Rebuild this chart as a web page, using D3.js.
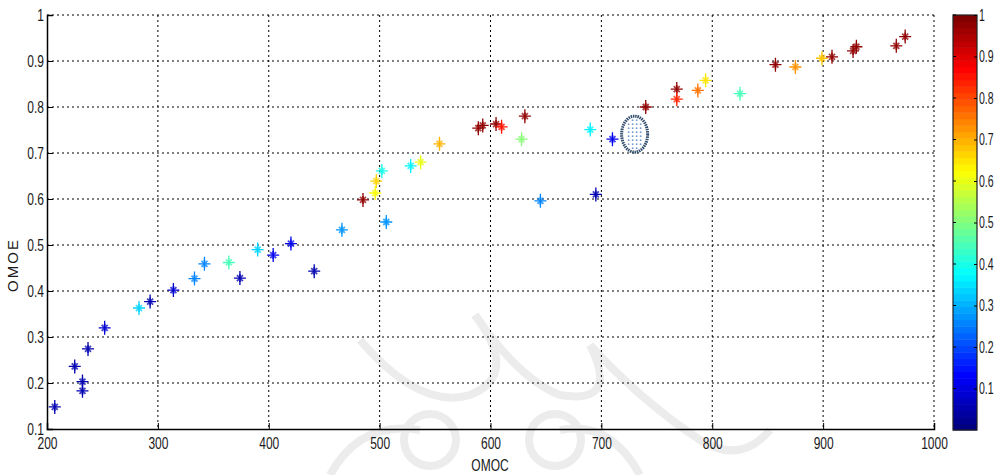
<!DOCTYPE html>
<html>
<head>
<meta charset="utf-8">
<script src="https://cdn.jsdelivr.net/npm/d3@7"></script>
<style>
  body { margin: 0; background: #fff; }
  text { font-family: "Liberation Sans Narrow", "Liberation Sans", Arial, sans-serif; }
</style>
</head>
<body>
<div id="chart"></div>
<script>
// data
const omoc = [207, 225, 232, 232, 237, 252, 283, 293, 314, 333, 342, 364, 374, 390, 404, 420, 441, 466,
  485, 496, 497, 502, 506, 528, 537, 554, 589, 593, 605, 610, 628, 631, 645, 690, 695, 710, 740,
  768, 768, 787, 794, 825, 857, 875, 899, 908, 927, 930, 966, 974];
const omoe = [0.148, 0.236, 0.203, 0.183, 0.274, 0.320, 0.363, 0.377, 0.402, 0.427, 0.459, 0.462, 0.428, 0.490, 0.478, 0.503, 0.443, 0.533,
  0.598, 0.613, 0.639, 0.661, 0.550, 0.672, 0.680, 0.720, 0.754, 0.760, 0.763, 0.757, 0.730, 0.780, 0.596, 0.751, 0.610, 0.730, 0.800,
  0.839, 0.817, 0.836, 0.858, 0.829, 0.892, 0.887, 0.906, 0.909, 0.922, 0.931, 0.933, 0.953];
const cval = [0.05, 0.05, 0.05, 0.05, 0.05, 0.08, 0.33, 0.05, 0.08, 0.25, 0.25, 0.45, 0.05, 0.33, 0.12, 0.12, 0.05, 0.27,
  0.97, 0.62, 0.67, 0.40, 0.27, 0.37, 0.60, 0.70, 0.97, 0.97, 0.97, 0.85, 0.50, 0.97, 0.25, 0.37, 0.05, 0.12, 0.97,
  0.97, 0.83, 0.75, 0.65, 0.45, 0.97, 0.72, 0.68, 0.97, 0.97, 0.97, 0.97, 0.97];
const xTicks = [200, 300, 400, 500, 600, 700, 800, 900, 1000];
const yTicks = [0.1, 0.2, 0.3, 0.4, 0.5, 0.6, 0.7, 0.8, 0.9, 1];
const cTicks = [0.1, 0.2, 0.3, 0.4, 0.5, 0.6, 0.7, 0.8, 0.9, 1];
const highlight = { x: 730, y: 0.741 };

const W = 996, H = 475;
const m = { left: 47, right: 934, top: 15, bottom: 429 };

const svg = d3.select("#chart").append("svg").attr("width", W).attr("height", H);

const x = d3.scaleLinear().domain([200, 1000]).range([m.left, m.right]);
const y = d3.scaleLinear().domain([0.1, 1]).range([m.bottom, m.top]);

// jet colormap, 64 levels like matlab
function jet(v) {
  const q = Math.min(63, Math.max(0, Math.floor(v * 64))) / 63;
  const c = t => Math.round(255 * Math.max(0, Math.min(1, t)));
  return d3.rgb(c(1.5 - Math.abs(4 * q - 3)), c(1.5 - Math.abs(4 * q - 2)), c(1.5 - Math.abs(4 * q - 1))).toString();
}

// squeeze text horizontally round its anchor, to look like the narrow matlab font
function narrow(sel, k = 0.75) {
  sel.each(function () {
    const ax = +d3.select(this).attr("x") || 0;
    d3.select(this).attr("transform", `translate(${ax},0) scale(${k},1) translate(${-ax},0)`);
  });
}

// faint watermark behind plot
const wm = svg.append("g").attr("fill", "none").attr("stroke", "#ececec").attr("stroke-width", 8);
wm.append("circle").attr("cx", 430).attr("cy", 440).attr("r", 26);
wm.append("circle").attr("cx", 555).attr("cy", 440).attr("r", 26);
wm.append("path").attr("d", "M360,340 Q420,410 470,395 Q520,375 475,315");
wm.append("path").attr("d", "M475,315 Q520,380 560,395 Q620,405 590,345");
wm.append("path").attr("d", "M330,475 Q360,420 420,430");
wm.append("path").attr("d", "M640,475 Q610,420 560,430");
wm.append("path").attr("d", "M590,345 Q640,400 700,440 Q740,465 770,430");

// grid
const grid = svg.append("g").attr("stroke", "#000").attr("stroke-width", 1).attr("stroke-dasharray", "2,3");
grid.selectAll("line.gx").data(xTicks.slice(1, -1)).join("line")
  .attr("x1", d => x(d)).attr("x2", d => x(d)).attr("y1", m.top).attr("y2", m.bottom);
grid.selectAll("line.gy").data(yTicks.slice(1, -1)).join("line")
  .attr("y1", d => y(d)).attr("y2", d => y(d)).attr("x1", m.left).attr("x2", m.right);
grid.append("line").attr("x1", m.left).attr("x2", m.right).attr("y1", m.top).attr("y2", m.top);
grid.append("line").attr("x1", m.right).attr("x2", m.right).attr("y1", m.top).attr("y2", m.bottom);

// axes, ticks pointing inward
const xAxis = svg.append("g").attr("transform", `translate(0,${m.bottom})`)
  .call(d3.axisBottom(x).tickValues(xTicks).tickSize(-6).tickPadding(9).tickFormat(d3.format("d")));
const yAxis = svg.append("g").attr("transform", `translate(${m.left},0)`)
  .call(d3.axisLeft(y).tickValues(yTicks).tickSize(-6).tickPadding(3).tickFormat(d => d === 1 ? "1" : d3.format(".1f")(d)));
[xAxis, yAxis].forEach(a => {
  a.select(".domain").attr("stroke", "#000").attr("stroke-width", 1.5);
  a.selectAll("text").attr("font-size", 16).attr("fill", "#1a1a1a").call(narrow);
});

svg.append("text").attr("x", 490).attr("y", 471).attr("text-anchor", "middle")
  .attr("font-size", 16).attr("fill", "#1a1a1a").text("OMOC").call(narrow);
svg.append("text").attr("transform", "translate(18,265) rotate(-90)").attr("text-anchor", "middle")
  .attr("font-size", 15).attr("fill", "#1a1a1a").attr("letter-spacing", 2).text("OMOE");

// markers: '+' overlaid with '*'
const mk = svg.append("g");
omoc.forEach((v, i) => {
  const g = mk.append("g").attr("transform", `translate(${x(v)},${y(omoe[i])})`)
    .attr("stroke", jet(cval[i])).attr("fill", "none");
  g.append("path").attr("d", "M0,-7V7M-6,0H6").attr("stroke-width", 1.3);
  g.append("path").attr("d", "M-3,-3L3,3M-3,3L3,-3M0,-4V4").attr("stroke-width", 1.8).attr("opacity", 0.75);
});

// highlighted cluster ellipse with dotted fill
const ex = x(highlight.x), ey = y(highlight.y);
svg.append("ellipse").attr("cx", ex).attr("cy", ey).attr("rx", 13).attr("ry", 18)
  .attr("fill", "none").attr("stroke", "#2f4a6a").attr("stroke-width", 3).attr("stroke-dasharray", "1.5,0.8");
const dots = [];
for (let dy = -14; dy <= 14; dy += 4) for (let dx = -10; dx <= 10; dx += 4) {
  if ((dx * dx) / 100 + (dy * dy) / 225 <= 1) dots.push([dx, dy]);
}
svg.append("g").selectAll("circle").data(dots).join("circle")
  .attr("cx", d => ex + d[0]).attr("cy", d => ey + d[1]).attr("r", 0.9).attr("fill", "#6f9ad0");

// colorbar
const cb = { x0: 953, x1: 977 };
const c = d3.scaleLinear().domain([0, 1]).range([430, 15]);
const levels = d3.range(64);
svg.append("g").selectAll("rect").data(levels).join("rect")
  .attr("x", cb.x0).attr("width", cb.x1 - cb.x0)
  .attr("y", d => c((d + 1) / 64)).attr("height", d => c(d / 64) - c((d + 1) / 64) + 0.5)
  .attr("fill", d => jet((d + 0.5) / 64));
svg.append("rect").attr("x", cb.x0).attr("y", c(1)).attr("width", cb.x1 - cb.x0).attr("height", c(0) - c(1))
  .attr("fill", "none").attr("stroke", "#222").attr("stroke-width", 1.2);
const cAxis = svg.append("g").attr("transform", `translate(${cb.x1},0)`)
  .call(d3.axisRight(c).tickValues(cTicks).tickSize(-3).tickPadding(2).tickFormat(d => d === 1 ? "1" : d3.format(".1f")(d)));
cAxis.select(".domain").remove();
cAxis.selectAll("text").attr("font-size", 16).attr("fill", "#1a1a1a").call(s => narrow(s, 0.66));
svg.append("g").selectAll("line").data(cTicks).join("line")
  .attr("x1", cb.x0).attr("x2", cb.x0 + 3).attr("y1", d => c(d)).attr("y2", d => c(d)).attr("stroke", "#000");
</script>
</body>
</html>
